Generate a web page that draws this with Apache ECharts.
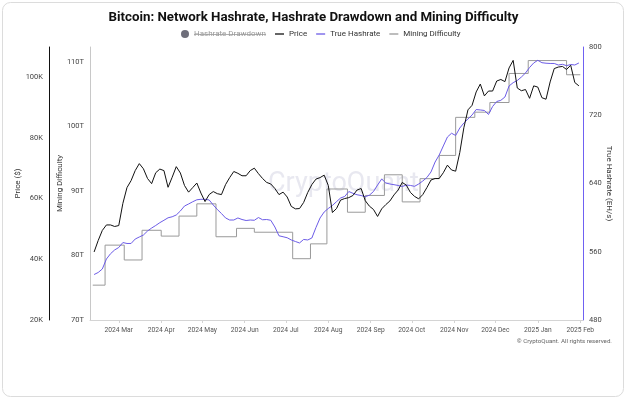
<!DOCTYPE html>
<html>
<head>
<meta charset="utf-8">
<script src="https://cdn.jsdelivr.net/npm/echarts@6/dist/echarts.min.js"></script>
<style>
  html, body { margin: 0; padding: 0; background: #fff; }
  #main { width: 627px; height: 400px; }
</style>
</head>
<body>
<div id="main"></div>
<script>
// Price and hashrate are sampled every 3 days starting 2024-02-12
var sampleStart = [2024, 1, 12];
var sampleStepDays = 3;

// BTC price, thousands of USD
var priceK = [42.4, 46.2, 49.5, 51.3, 51.3, 50.8, 51.1, 58.4, 63.6, 65.9,
  69.2, 71.5, 69.8, 66.6, 64.9, 68.5, 69.7, 69.2, 63.7, 67.0,
  70.5, 68.4, 64.3, 62.1, 63.6, 65.1, 61.8, 59.0, 61.3, 62.3,
  61.6, 61.3, 64.6, 66.9, 68.9, 68.3, 67.5, 67.5, 69.2, 70.0,
  68.2, 66.6, 65.3, 64.8, 63.3, 61.3, 62.1, 60.5, 57.4, 56.6,
  56.7, 58.7, 62.0, 64.6, 66.4, 66.9, 67.7, 64.3, 55.4, 56.7,
  59.5, 60.0, 60.3, 61.0, 62.8, 63.3, 59.3, 57.5, 56.4, 54.1,
  56.6, 58.0, 59.2, 61.2, 62.8, 65.3, 64.4, 62.0, 60.7, 59.9,
  61.3, 63.6, 66.1, 66.6, 66.6, 68.5, 71.0, 69.4, 69.0, 75.1,
  83.3, 89.2, 90.7, 95.1, 97.7, 93.8, 95.4, 95.4, 98.7, 99.2,
  98.5, 103.0, 105.5, 96.4, 95.5, 95.9, 93.0, 97.1, 96.7, 93.2,
  92.7, 98.4, 102.8, 103.3, 103.5, 102.5, 103.9, 98.2, 97.1];

// True hashrate, EH/s
var hashrate = [533.3, 535.7, 539.8, 551.5, 557.7, 562.1, 565.0, 570.8, 569.7, 569.7,
  574.9, 577.3, 579.6, 584.3, 587.8, 590.8, 594.1, 596.9, 599.8, 601.0,
  603.1, 607.8, 613.6, 616.0, 618.6, 620.9, 621.5, 621.5, 620.7, 614.8,
  609.5, 604.8, 599.6, 597.2, 597.2, 599.6, 597.8, 596.6, 597.2, 596.9,
  600.1, 597.5, 597.8, 596.9, 589.0, 578.7, 577.6, 576.4, 573.8, 572.0,
  570.3, 574.4, 573.8, 576.1, 588.4, 599.6, 606.6, 610.7, 614.2, 618.7,
  623.0, 624.8, 630.6, 628.5, 626.8, 625.9, 624.5, 626.3, 630.6, 638.2,
  645.3, 640.6, 639.4, 638.6, 637.7, 636.5, 638.2, 637.7, 636.7, 639.4,
  642.9, 647.0, 653.5, 665.2, 673.4, 684.0, 694.5, 698.9, 696.3, 705.0,
  710.9, 715.6, 720.3, 726.7, 726.2, 725.6, 720.9, 730.3, 736.1, 737.5,
  741.4, 754.3, 758.2, 760.7, 764.8, 769.5, 776.0, 781.3, 784.4, 781.6,
  781.0, 780.7, 780.7, 778.9, 779.7, 778.1, 779.5, 778.9, 781.3];

// Mining difficulty (T) and the dates it changes
var difficultyDates = ['2024-02-11', '2024-02-20', '2024-03-05', '2024-03-18', '2024-04-01',
  '2024-04-14', '2024-04-27', '2024-05-11', '2024-05-26', '2024-06-08',
  '2024-07-06', '2024-07-19', '2024-07-31', '2024-08-15', '2024-08-28',
  '2024-09-11', '2024-09-24', '2024-10-07', '2024-10-21', '2024-11-02',
  '2024-11-16', '2024-11-27', '2024-12-11', '2024-12-25', '2025-01-22', '2025-02-01'];
var difficulty = [75.4, 81.6, 79.3, 83.9, 83.0, 86.1, 88.0, 82.9, 84.2, 83.6,
  79.5, 81.8, 90.3, 86.7, 89.3, 92.5, 88.3, 91.9, 95.5, 101.4,
  102.2, 103.7, 108.2, 110.2, 108.0, 108.0];

var legendNames = ['Hashrate Drawdown', 'Price', 'True Hashrate', 'Mining Difficulty'];

var FONT = 'Roboto';
var myChart = echarts.init(document.getElementById('main'));

function sampleDate(i) {
  return new Date(sampleStart[0], sampleStart[1], sampleStart[2] + i * sampleStepDays).getTime();
}

// width of a legend text, used for the strike-through of the hidden series
function textWidth(text, size) {
  var ctx = document.createElement('canvas').getContext('2d');
  ctx.font = size + 'px ' + FONT;
  return ctx.measureText(text).width;
}

var priceData = priceK.map(function (v, i) { return [sampleDate(i), v * 1000]; });
var hashData = hashrate.map(function (v, i) { return [sampleDate(i), v]; });
var diffData = difficultyDates.map(function (d, i) {
  var p = d.split('-');
  return [new Date(+p[0], +p[1] - 1, +p[2]).getTime(), difficulty[i]];
});

var axisLabelStyle = { fontFamily: FONT, fontSize: 7.5, color: '#444' };
var axisNameStyle = { fontFamily: FONT, fontSize: 8, color: '#333' };
var legendFont = 8;
var legendLeft = 181;
var strikeStart = legendLeft + 8 + 5;
var strikeEnd = strikeStart + textWidth(legendNames[0], legendFont);

var option = {
  animation: false,
  backgroundColor: '#fff',
  textStyle: { fontFamily: FONT },
  title: {
    text: 'Bitcoin: Network Hashrate, Hashrate Drawdown and Mining Difficulty',
    left: 'center',
    top: 6,
    textStyle: { fontFamily: FONT, fontSize: 13.3, fontWeight: 'bold', color: '#111' }
  },
  legend: [
    {
      left: legendLeft, top: 30, padding: 0,
      itemWidth: 8, itemHeight: 8,
      icon: 'circle',
      textStyle: { fontFamily: FONT, fontSize: legendFont, color: '#9a9a9a' },
      data: [legendNames[0]]
    },
    {
      left: strikeEnd + 9, top: 30, padding: 0,
      itemWidth: 9, itemHeight: 1.3, itemGap: 9,
      icon: 'rect',
      textStyle: { fontFamily: FONT, fontSize: legendFont, color: '#333' },
      data: legendNames.slice(1)
    }
  ],
  grid: { left: 90, right: 44, top: 47, bottom: 80, outerBoundsMode: 'none' },
  xAxis: {
    type: 'time',
    min: new Date(2024, 1, 9).getTime(),
    max: new Date(2025, 1, 3).getTime(),
    splitNumber: 12,
    minInterval: 28 * 86400000,
    axisLine: { lineStyle: { color: '#d4d4d4' } },
    axisTick: { show: true, length: 3, lineStyle: { color: '#d4d4d4' } },
    axisLabel: { fontFamily: FONT, fontSize: 6.7, color: '#555', margin: 7, formatter: '{yyyy} {MMM}', hideOverlap: false },
    splitLine: { show: false }
  },
  yAxis: [
    {
      type: 'value', position: 'left', offset: 0,
      min: 70, max: 112.3, interval: 10,
      name: 'Mining Difficulty', nameLocation: 'middle', nameGap: 26, nameMoveOverlap: false,
      nameTextStyle: axisNameStyle,
      axisLine: { show: true, lineStyle: { color: '#c8c8c8' } },
      axisTick: { show: false },
      axisLabel: Object.assign({ margin: 6, formatter: function (v) { return v % 10 === 0 ? v + 'T' : ''; } }, axisLabelStyle),
      splitLine: { show: false }
    },
    {
      type: 'value', position: 'left', offset: 41,
      min: 20000, max: 109900, interval: 20000,
      name: 'Price ($)', nameLocation: 'middle', nameGap: 27, nameMoveOverlap: false,
      nameTextStyle: axisNameStyle,
      axisLine: { show: true, lineStyle: { color: '#111' } },
      axisTick: { show: false },
      axisLabel: Object.assign({ margin: 6, formatter: function (v) { return v % 20000 === 0 ? (v / 1000) + 'K' : ''; } }, axisLabelStyle),
      splitLine: { show: false }
    },
    {
      type: 'value', position: 'right', offset: 0,
      min: 480, max: 800, interval: 80,
      name: 'True Hashrate (EH/s)', nameLocation: 'middle', nameGap: 22, nameRotate: -90, nameMoveOverlap: false,
      nameTextStyle: axisNameStyle,
      axisLine: { show: true, lineStyle: { color: '#6f61f2' } },
      axisTick: { show: false },
      axisLabel: Object.assign({ margin: 6 }, axisLabelStyle),
      splitLine: { show: false }
    }
  ],
  graphic: [
    {
      type: 'rect', silent: true, z: -10,
      shape: { x: 2.5, y: 2.5, width: 621, height: 394, r: 8 },
      style: { fill: 'none', stroke: '#dcdcdc', lineWidth: 1 }
    },
    {
      type: 'line', silent: true,
      shape: { x1: strikeStart, y1: 34.5, x2: strikeEnd, y2: 34.5 },
      style: { stroke: '#9a9a9a', lineWidth: 0.8 }
    },
    {
      type: 'text', silent: true, z: -5,
      left: 268, top: 171,
      style: { text: 'CryptoQuant', fontFamily: FONT, fontSize: 27, fill: 'rgba(190,190,212,0.35)' }
    },
    {
      type: 'text', silent: true,
      right: 15, top: 338,
      style: { text: '\u00a9 CryptoQuant. All rights reserved.', fontFamily: FONT, fontSize: 6.2, fill: '#666' }
    }
  ],
  series: [
    {
      name: legendNames[0], type: 'line', yAxisIndex: 2,
      color: '#6e6e7a', symbol: 'none', data: []
    },
    {
      name: legendNames[3], type: 'line', yAxisIndex: 0, step: 'end',
      color: '#9a9a9a', symbol: 'none',
      lineStyle: { width: 1, color: '#9a9a9a' },
      data: diffData
    },
    {
      name: legendNames[2], type: 'line', yAxisIndex: 2,
      color: '#6c5ce7', symbol: 'none',
      lineStyle: { width: 1, color: '#6c5ce7' },
      data: hashData
    },
    {
      name: legendNames[1], type: 'line', yAxisIndex: 1,
      color: '#111', symbol: 'none',
      lineStyle: { width: 1, color: '#111' },
      data: priceData
    }
  ]
};

myChart.setOption(option);
</script>
</body>
</html>
